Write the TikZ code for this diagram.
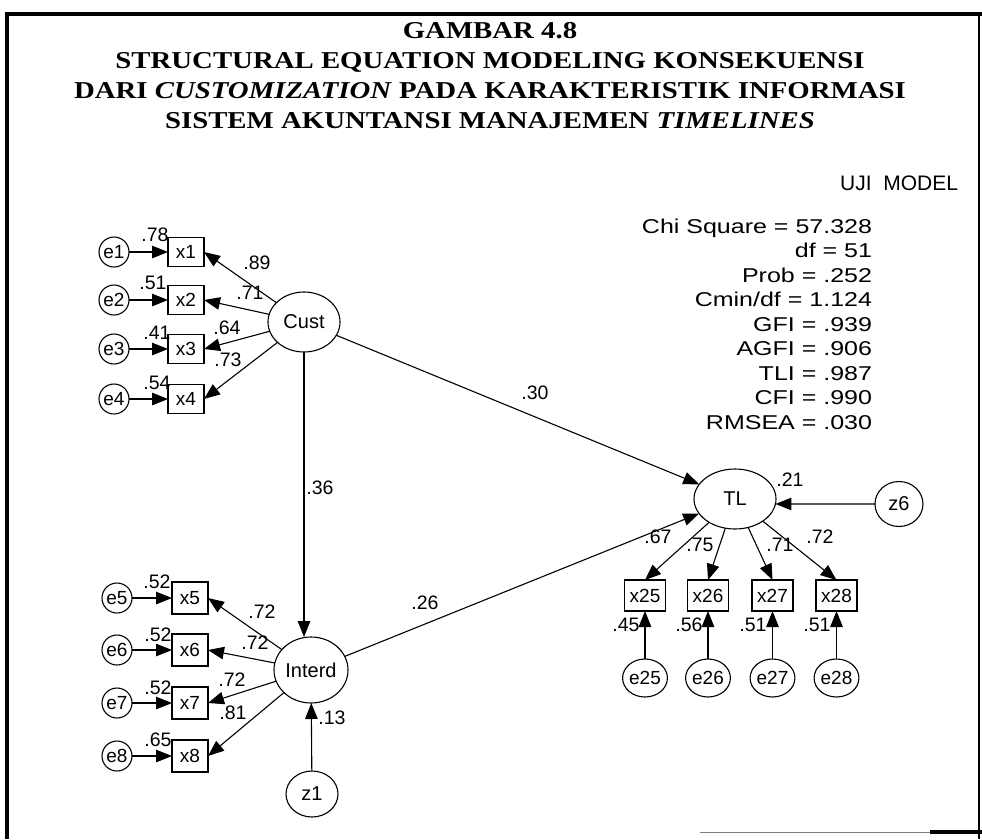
\documentclass[tikz,border=0pt]{standalone}
\usepackage{graphicx}
\usepackage{fontspec}
\setmainfont{Liberation Sans}
\newfontfamily\titlefont{Liberation Serif}
\usetikzlibrary{arrows.meta,shapes.geometric}
\newcommand{\wide}[2]{\scalebox{#1}[1]{#2}}
\begin{document}
\begin{tikzpicture}[x=1pt,y=-1pt,
  every node/.style={inner sep=0pt, outer sep=0pt},
  lat/.style={draw, ellipse, line width=1.1pt, font=\fontsize{20}{22}\selectfont},
  err/.style={draw, ellipse, line width=1.1pt, font=\fontsize{19}{21}\selectfont},
  obs/.style={draw, rectangle, line width=1.1pt, font=\fontsize{19}{21}\selectfont},
  arr/.style={line width=1.1pt, -{Triangle[length=16pt,width=12.5pt]}},
  lbl/.style={font=\fontsize{19.5}{21}\selectfont},
  stat/.style={font=\fontsize{20}{22}\selectfont, anchor=base east},
  ttl/.style={font=\titlefont\bfseries\fontsize{24.2}{26}\selectfont, anchor=base}
]
\useasboundingbox (0,0) rectangle (982,839);
% frame
\draw[line width=4.5pt] (5,14) -- (982,14);
\draw[line width=4pt] (7,12) -- (7,839);
\draw[line width=1.5pt] (979,12) -- (979,839);
\draw[line width=1pt, gray] (700,832) -- (930,832);
\draw[line width=4pt] (930,832) -- (982,832);
% title
\node[ttl] (t1) at (490,38) {\wide{1.19}{GAMBAR 4.8}};
\node[ttl] (t2) at (490,68) {\wide{1.19}{STRUCTURAL EQUATION MODELING KONSEKUENSI}};
\node[ttl] (t3) at (490,98) {\wide{1.19}{DARI \textit{CUSTOMIZATION} PADA KARAKTERISTIK INFORMASI}};
\node[ttl] (t4) at (490,128) {\wide{1.19}{SISTEM AKUNTANSI MANAJEMEN \textit{TIMELINES}}};
\node[font=\fontsize{21}{23}\selectfont, anchor=base east] (uji) at (958,190) {UJI\ \ MODEL};
% stats
\node[stat] (s1) at (872,233) {\wide{1.25}{Chi Square = 57.328}};
\node[stat] (s2) at (872,257.5) {\wide{1.25}{df = 51}};
\node[stat] (s3) at (872,282) {\wide{1.25}{Prob = .252}};
\node[stat] (s4) at (872,306.5) {\wide{1.25}{Cmin/df = 1.124}};
\node[stat] (s5) at (872,331) {\wide{1.25}{GFI = .939}};
\node[stat] (s6) at (872,355.5) {\wide{1.25}{AGFI = .906}};
\node[stat] (s7) at (872,380) {\wide{1.25}{TLI = .987}};
\node[stat] (s8) at (872,404.5) {\wide{1.25}{CFI = .990}};
\node[stat] (s9) at (872,429) {\wide{1.25}{RMSEA = .030}};
% latent
\node[lat, minimum width=72pt, minimum height=60pt] (Cust) at (304,322) {Cust};
\node[lat, minimum width=74pt, minimum height=66pt] (Interd) at (311,670) {Interd};
\node[lat, minimum width=82pt, minimum height=60pt] (TL) at (735,499) {TL};
\node[lat, minimum width=52pt, minimum height=46pt] (z1) at (312,794) {z1};
\node[lat, minimum width=48pt, minimum height=45pt] (z6) at (899,504) {z6};
% Cust indicators
\foreach \i/\y in {1/252,2/300,3/349,4/399}{
  \node[err, minimum width=30pt, minimum height=30pt] (e\i) at (114,\y) {e\i};
  \node[obs, minimum width=36pt, minimum height=29pt] (x\i) at (186,\y) {x\i};
  \draw[arr] (e\i) -- (x\i);
  \draw[arr] (Cust) -- (x\i.east);
}
% Interd indicators
\foreach \i/\y in {5/598,6/650,7/703,8/756}{
  \node[err, minimum width=30pt, minimum height=30pt] (e\i) at (117,\y) {e\i};
  \node[obs, minimum width=36pt, minimum height=32pt] (x\i) at (190,\y) {x\i};
  \draw[arr] (e\i) -- (x\i);
  \draw[arr] (Interd) -- (x\i.east);
}
% TL indicators
\foreach \i/\x in {25/645,26/708,27/772.5,28/836.5}{
  \node[obs, minimum width=41pt, minimum height=31pt] (x\i) at (\x,595.5) {x\i};
  \node[err, minimum width=41pt, minimum height=38pt] (e\i) at (\x,678) {e\i};
  \draw[arr] (e\i) -- (x\i);
  \draw[arr] (TL) -- (x\i.north);
}
% structural paths
\draw[arr] (Cust.south) -- (Interd.north -| Cust.south);
\draw[arr] (Cust) -- (TL);
\draw[arr] (Interd) -- (TL);
\draw[arr] (z1) -- (Interd);
\draw[arr] (z6.west) -- (TL.-7);
% labels
\node[lbl] (l78) at (155,235) {.78};
\node[lbl] (l51) at (153,283) {.51};
\node[lbl] (l41) at (157,333) {.41};
\node[lbl] (l54) at (157,383) {.54};
\node[lbl] (l89) at (257,263) {.89};
\node[lbl] (l71) at (250,293) {.71};
\node[lbl] (l64) at (227,328) {.64};
\node[lbl] (l73) at (228,360) {.73};
\node[lbl] (l52a) at (157,582) {.52};
\node[lbl] (l52b) at (158,635) {.52};
\node[lbl] (l52c) at (158,688) {.52};
\node[lbl] (l65) at (158,740) {.65};
\node[lbl] (l72a) at (262,612) {.72};
\node[lbl] (l72b) at (255,643) {.72};
\node[lbl] (l72c) at (232,680) {.72};
\node[lbl] (l81) at (233,713) {.81};
\node[lbl] (l13) at (332,718) {.13};
\node[lbl] (l36) at (320,488) {.36};
\node[lbl] (l30) at (535,393) {.30};
\node[lbl] (l26) at (425,603) {.26};
\node[lbl] (l21) at (790,480) {.21};
\node[lbl] (l67) at (658,537) {.67};
\node[lbl] (l75) at (700,545) {.75};
\node[lbl] (l71b) at (780,545) {.71};
\node[lbl] (l72d) at (820,537) {.72};
\node[lbl] (l45) at (626,625) {.45};
\node[lbl] (l56) at (689,625) {.56};
\node[lbl] (l51b) at (753,625) {.51};
\node[lbl] (l51c) at (817,625) {.51};
\end{tikzpicture}
\end{document}
